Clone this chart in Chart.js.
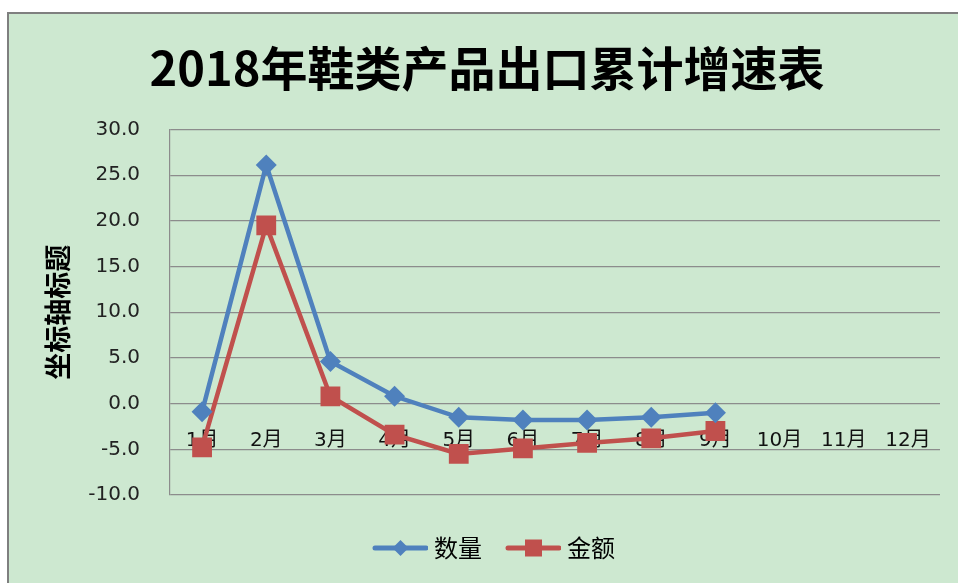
<!DOCTYPE html>
<html>
<head>
<meta charset="utf-8">
<script src="https://cdn.jsdelivr.net/npm/chart.js@4"></script>
<style>
  html, body { margin: 0; padding: 0; background: #fff; overflow: hidden; width: 958px; height: 583px; }
  #frame {
    position: absolute; left: 7px; top: 12px;
    width: 980px; height: 600px;
    background: #cde8d0;
    border-left: 2px solid #7f7f7f;
    border-top: 2px solid #7f7f7f;
  }
  canvas { display: block; }
</style>
</head>
<body>
<div id="frame"><canvas id="myChart" width="949" height="569"></canvas></div>
<script>
// chart data
var months = ['1月', '2月', '3月', '4月', '5月', '6月', '7月', '8月', '9月', '10月', '11月', '12月'];
var quantity = [-0.9, 26.1, 4.6, 0.8, -1.5, -1.8, -1.8, -1.5, -1.0, null, null, null];
var amount = [-4.8, 19.5, 0.8, -3.4, -5.5, -4.9, -4.3, -3.8, -3.0, null, null, null];
var seriesNames = ['数量', '金额'];
var yTicks = [-10, -5, 0, 5, 10, 15, 20, 25, 30];

var blue = '#4f81bd';
var red = '#c0504d';

// legend swatch: a short line with the marker in the middle
function swatch(color, marker) {
  var c = document.createElement('canvas');
  c.width = 75; c.height = 24;
  var g = c.getContext('2d');
  g.strokeStyle = color;
  g.lineWidth = 5;
  g.lineCap = 'round';
  g.beginPath();
  g.moveTo(22, 12); g.lineTo(73, 12);
  g.stroke();
  g.fillStyle = color;
  var cx = 47.5;
  if (marker === 'diamond') {
    g.beginPath();
    g.moveTo(cx, 4); g.lineTo(cx + 8, 12); g.lineTo(cx, 20); g.lineTo(cx - 8, 12);
    g.closePath(); g.fill();
  } else {
    g.fillRect(cx - 8.5, 3.5, 17, 17);
  }
  return c;
}
var swatches = [swatch(blue, 'diamond'), swatch(red, 'square')];

new Chart(document.getElementById('myChart'), {
  type: 'line',
  data: {
    labels: months,
    datasets: [
      {
        label: seriesNames[0],
        data: quantity,
        borderColor: blue,
        backgroundColor: blue,
        borderWidth: 4.5,
        pointStyle: 'rectRot',
        pointRadius: 10.5,
        pointBorderWidth: 0,
        tension: 0
      },
      {
        label: seriesNames[1],
        data: amount,
        borderColor: red,
        backgroundColor: red,
        borderWidth: 4.5,
        pointStyle: 'rect',
        pointRadius: 14,
        pointBorderWidth: 0,
        tension: 0
      }
    ]
  },
  options: {
    responsive: false,
    animation: false,
    layout: { padding: { left: 25, right: 18, top: 0, bottom: 13 } },
    plugins: {
      title: {
        display: true,
        text: '2018年鞋类产品出口累计增速表',
        color: '#000',
        font: { family: '"Noto Sans CJK SC"', size: 47, weight: 'bold', lineHeight: 1.2 },
        padding: { top: 26, bottom: 33 }
      },
      legend: {
        position: 'bottom',
        title: { display: true, text: '', font: { size: 20, lineHeight: 1.2 }, padding: { top: 7, bottom: 0 } },
        labels: {
          usePointStyle: true,
          pointStyleWidth: 63,
          padding: 10,
          color: '#000',
          font: { family: '"Noto Sans CJK SC"', size: 24 },
          generateLabels: function (chart) {
            return chart.data.datasets.map(function (ds, i) {
              return {
                text: ds.label,
                pointStyle: swatches[i],
                fillStyle: ds.borderColor,
                strokeStyle: ds.borderColor,
                lineWidth: 0,
                hidden: false,
                datasetIndex: i,
                fontColor: '#000'
              };
            });
          }
        }
      },
      tooltip: { enabled: false }
    },
    scales: {
      x: {
        position: { y: 0 },
        offset: true,
        grid: { display: false, drawTicks: false },
        border: { display: false },
        ticks: {
          padding: 25,
          color: '#111',
          font: { family: '"DejaVu Sans", "Noto Sans CJK SC"', size: 20 }
        }
      },
      y: {
        min: -10,
        max: 30,
        afterFit: function (scale) { scale.width = 136; },
        afterBuildTicks: function (scale) {
          scale.ticks = yTicks.map(function (v) { return { value: v }; });
        },
        grid: { color: '#8c8c8c', lineWidth: 1.2, drawTicks: false },
        border: { color: '#8c8c8c', width: 1.2 },
        ticks: {
          padding: 30,
          color: '#222',
          font: { family: '"DejaVu Sans"', size: 20 },
          callback: function (v) { return Number(v).toFixed(1); }
        },
        title: {
          display: true,
          text: '坐标轴标题',
          color: '#000',
          font: { family: '"Noto Sans CJK SC"', size: 27, weight: 'bold', lineHeight: 1.2 },
          padding: { top: 8, bottom: 0 }
        }
      }
    }
  }
});
</script>
</body>
</html>
